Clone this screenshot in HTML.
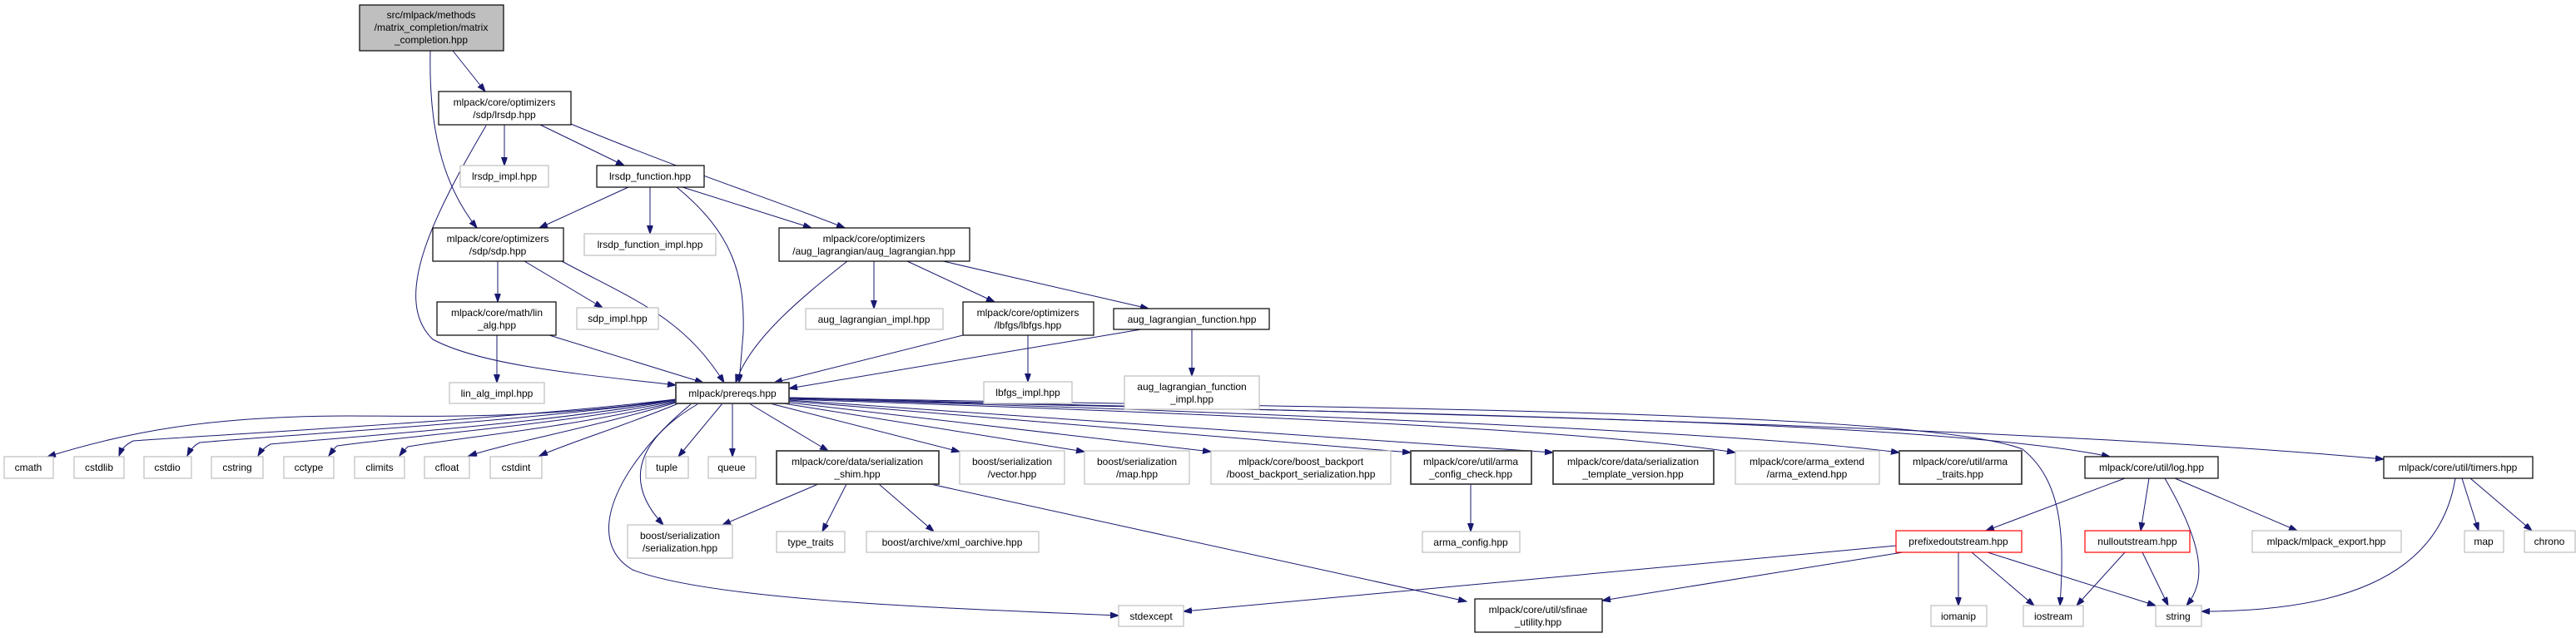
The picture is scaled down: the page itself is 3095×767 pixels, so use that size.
<!DOCTYPE html>
<html><head><meta charset="utf-8"><style>
html,body{margin:0;padding:0;background:#fff;}
svg{display:block;}
text{font-family:"Liberation Sans",sans-serif;font-size:12px;fill:#000;text-anchor:middle;}
.b{fill:#fff;stroke:#000;stroke-width:1.2;}
.d{fill:#fff;stroke:#404040;stroke-width:1.8;}
.g{fill:#fff;stroke:#bfbfbf;stroke-width:1.2;}
.r{fill:#fff;stroke:#ff0000;stroke-width:1.2;}
.e path{fill:none;stroke:#191970;stroke-width:1;marker-end:url(#a);}
</style></head><body>
<svg width="3095" height="767" viewBox="0 0 3095 767" xmlns="http://www.w3.org/2000/svg">
<defs><marker id="a" markerUnits="userSpaceOnUse" markerWidth="11" markerHeight="8" refX="10" refY="3.5" orient="auto"><path d="M0,0 L10,3.5 L0,7 z" fill="#191970" stroke="#191970"/></marker></defs>
<g class="e">
<path d="M544,61 L583,110"/>
<path d="M517,61 C515,150 530,220 573,274"/>
<path d="M606,150 L606,199"/>
<path d="M649,150 L750,199"/>
<path d="M686,149 C820,205 930,240 1015,274"/>
<path d="M584,151 C520,260 470,360 520,408 C580,440 700,450 812,463"/>
<path d="M755,225 L648,274"/>
<path d="M781,225 L781,281"/>
<path d="M820,225 L975,274"/>
<path d="M813,225 C880,280 895,330 893,400 L888,460"/>
<path d="M598,314 L598,363"/>
<path d="M630,314 L724,370"/>
<path d="M675,314 C760,360 820,380 870,460"/>
<path d="M1018,314 C960,360 900,410 884,460"/>
<path d="M1050,314 L1050,371"/>
<path d="M1090,314 L1195,363"/>
<path d="M1133,314 L1380,371"/>
<path d="M1157,403 L930,460"/>
<path d="M1235,403 L1235,459"/>
<path d="M1371,396 L948,467"/>
<path d="M1432,396 L1432,452"/>
<path d="M597,403 L597,460"/>
<path d="M660,403 L845,460"/>
<path d="M812,480 C650,505 500,500 420,500 C250,500 150,520 57,549"/>
<path d="M812,480 C600,505 300,520 160,530 C150,535 146,540 143,548"/>
<path d="M812,481 C620,508 350,522 240,532 C232,536 228,542 225,548"/>
<path d="M812,481 C650,510 420,525 325,534 C317,538 313,543 310,548"/>
<path d="M812,482 C680,510 480,525 405,536 C400,540 398,544 395,548"/>
<path d="M812,483 C700,512 560,525 490,537 C486,541 483,544 480,548"/>
<path d="M812,484 C720,512 620,530 563,548"/>
<path d="M815,485 C750,512 690,530 648,548"/>
<path d="M868,485 L815,549"/>
<path d="M880,485 L880,549"/>
<path d="M900,485 L995,542"/>
<path d="M838,486 C780,520 740,570 797,631"/>
<path d="M830,486 C740,560 700,650 760,685 C850,720 1100,730 1344,740"/>
<path d="M925,485 L1153,543"/>
<path d="M935,484 L1303,543"/>
<path d="M940,483 L1455,543"/>
<path d="M946,482 L1695,544"/>
<path d="M948,481 L1866,544"/>
<path d="M948,480 C1400,495 1900,515 2085,544"/>
<path d="M948,479 C1500,495 2100,520 2282,544"/>
<path d="M948,478 C1500,490 2300,490 2430,540 C2480,580 2480,650 2475,728"/>
<path d="M948,479 C1500,495 2300,500 2535,549"/>
<path d="M948,478 C1600,495 2400,510 2864,552"/>
<path d="M983,582 L868,631"/>
<path d="M1017,582 L988,639"/>
<path d="M1056,582 L1122,639"/>
<path d="M1118,582 L1762,723"/>
<path d="M1767,582 L1767,639"/>
<path d="M2553,575 L2386,638"/>
<path d="M2582,575 L2572,638"/>
<path d="M2601,575 C2650,660 2650,700 2627,728"/>
<path d="M2613,575 L2760,638"/>
<path d="M2950,575 C2930,700 2800,735 2645,735"/>
<path d="M2958,575 L2978,638"/>
<path d="M2968,575 L3042,638"/>
<path d="M2278,656 L1422,735"/>
<path d="M2286,664 L1925,722"/>
<path d="M2353,664 L2353,728"/>
<path d="M2369,664 L2444,728"/>
<path d="M2388,664 L2590,728"/>
<path d="M2553,664 L2495,728"/>
<path d="M2574,664 L2605,728"/>
</g>
<rect x="432" y="6" width="173" height="55" fill="#bfbfbf" stroke="#000" stroke-width="1.2"/>
<text x="518" y="22">src/mlpack/methods</text><text x="518" y="37">/matrix_completion/matrix</text><text x="518" y="52">_completion.hpp</text>
<rect class="b" x="527" y="110" width="159" height="40"/><text x="606" y="127">mlpack/core/optimizers</text><text x="606" y="142">/sdp/lrsdp.hpp</text>
<rect class="g" x="553" y="199" width="106" height="26"/><text x="606" y="216">lrsdp_impl.hpp</text>
<rect class="b" x="717" y="199" width="129" height="26"/><text x="781" y="216">lrsdp_function.hpp</text>
<rect class="b" x="520" y="274" width="157" height="40"/><text x="598" y="291">mlpack/core/optimizers</text><text x="598" y="306">/sdp/sdp.hpp</text>
<rect class="g" x="702" y="281" width="158" height="26"/><text x="781" y="298">lrsdp_function_impl.hpp</text>
<rect class="b" x="936" y="274" width="229" height="40"/><text x="1050" y="291">mlpack/core/optimizers</text><text x="1050" y="306">/aug_lagrangian/aug_lagrangian.hpp</text>
<rect class="b" x="525" y="363" width="143" height="40"/><text x="597" y="380">mlpack/core/math/lin</text><text x="597" y="395">_alg.hpp</text>
<rect class="g" x="693" y="370" width="98" height="26"/><text x="742" y="387">sdp_impl.hpp</text>
<rect class="g" x="968" y="371" width="165" height="25"/><text x="1050" y="388">aug_lagrangian_impl.hpp</text>
<rect class="b" x="1157" y="363" width="157" height="40"/><text x="1235" y="380">mlpack/core/optimizers</text><text x="1235" y="395">/lbfgs/lbfgs.hpp</text>
<rect class="b" x="1338" y="371" width="187" height="25"/><text x="1432" y="388">aug_lagrangian_function.hpp</text>
<rect class="g" x="540" y="460" width="114" height="25"/><text x="597" y="477">lin_alg_impl.hpp</text>
<rect class="d" x="812" y="460" width="136" height="25"/><text x="880" y="477">mlpack/prereqs.hpp</text>
<rect class="g" x="1182" y="459" width="106" height="26"/><text x="1235" y="476">lbfgs_impl.hpp</text>
<rect class="g" x="1351" y="452" width="162" height="40"/><text x="1432" y="469">aug_lagrangian_function</text><text x="1432" y="484">_impl.hpp</text>
<rect class="g" x="5" y="549" width="59" height="26"/><text x="34" y="566">cmath</text>
<rect class="g" x="89" y="549" width="60" height="26"/><text x="119" y="566">cstdlib</text>
<rect class="g" x="173" y="549" width="57" height="26"/><text x="201" y="566">cstdio</text>
<rect class="g" x="254" y="549" width="62" height="26"/><text x="285" y="566">cstring</text>
<rect class="g" x="341" y="549" width="60" height="26"/><text x="371" y="566">cctype</text>
<rect class="g" x="426" y="549" width="60" height="26"/><text x="456" y="566">climits</text>
<rect class="g" x="510" y="549" width="54" height="26"/><text x="537" y="566">cfloat</text>
<rect class="g" x="589" y="549" width="62" height="26"/><text x="620" y="566">cstdint</text>
<rect class="g" x="776" y="549" width="51" height="26"/><text x="801" y="566">tuple</text>
<rect class="g" x="851" y="549" width="57" height="26"/><text x="879" y="566">queue</text>
<rect class="d" x="933" y="542" width="195" height="40"/><text x="1030" y="559">mlpack/core/data/serialization</text><text x="1030" y="574">_shim.hpp</text>
<rect class="g" x="1153" y="542" width="126" height="40"/><text x="1216" y="559">boost/serialization</text><text x="1216" y="574">/vector.hpp</text>
<rect class="g" x="1303" y="542" width="126" height="40"/><text x="1366" y="559">boost/serialization</text><text x="1366" y="574">/map.hpp</text>
<rect class="g" x="1455" y="542" width="216" height="40"/><text x="1563" y="559">mlpack/core/boost_backport</text><text x="1563" y="574">/boost_backport_serialization.hpp</text>
<rect class="d" x="1695" y="542" width="145" height="40"/><text x="1767" y="559">mlpack/core/util/arma</text><text x="1767" y="574">_config_check.hpp</text>
<rect class="d" x="1866" y="542" width="193" height="40"/><text x="1962" y="559">mlpack/core/data/serialization</text><text x="1962" y="574">_template_version.hpp</text>
<rect class="g" x="2085" y="542" width="173" height="40"/><text x="2171" y="559">mlpack/core/arma_extend</text><text x="2171" y="574">/arma_extend.hpp</text>
<rect class="d" x="2282" y="542" width="147" height="40"/><text x="2355" y="559">mlpack/core/util/arma</text><text x="2355" y="574">_traits.hpp</text>
<rect class="b" x="2505" y="549" width="160" height="26"/><text x="2585" y="566">mlpack/core/util/log.hpp</text>
<rect class="b" x="2864" y="549" width="179" height="26"/><text x="2953" y="566">mlpack/core/util/timers.hpp</text>
<rect class="g" x="754" y="631" width="126" height="40"/><text x="817" y="648">boost/serialization</text><text x="817" y="663">/serialization.hpp</text>
<rect class="g" x="933" y="639" width="82" height="25"/><text x="974" y="656">type_traits</text>
<rect class="g" x="1041" y="639" width="207" height="25"/><text x="1144" y="656">boost/archive/xml_oarchive.hpp</text>
<rect class="g" x="1709" y="639" width="117" height="25"/><text x="1767" y="656">arma_config.hpp</text>
<rect class="r" x="2278" y="638" width="151" height="26"/><text x="2353" y="655">prefixedoutstream.hpp</text>
<rect class="r" x="2505" y="638" width="126" height="26"/><text x="2568" y="655">nulloutstream.hpp</text>
<rect class="g" x="2706" y="638" width="179" height="26"/><text x="2795" y="655">mlpack/mlpack_export.hpp</text>
<rect class="g" x="2961" y="638" width="47" height="26"/><text x="2984" y="655">map</text>
<rect class="g" x="3033" y="638" width="61" height="26"/><text x="3063" y="655">chrono</text>
<rect class="g" x="1344" y="728" width="78" height="25"/><text x="1383" y="745">stdexcept</text>
<rect class="b" x="1772" y="720" width="153" height="40"/><text x="1848" y="737">mlpack/core/util/sfinae</text><text x="1848" y="752">_utility.hpp</text>
<rect class="g" x="2320" y="728" width="67" height="25"/><text x="2353" y="745">iomanip</text>
<rect class="g" x="2431" y="728" width="72" height="25"/><text x="2467" y="745">iostream</text>
<rect class="g" x="2590" y="728" width="55" height="25"/><text x="2617" y="745">string</text>
</svg>
</body></html>
